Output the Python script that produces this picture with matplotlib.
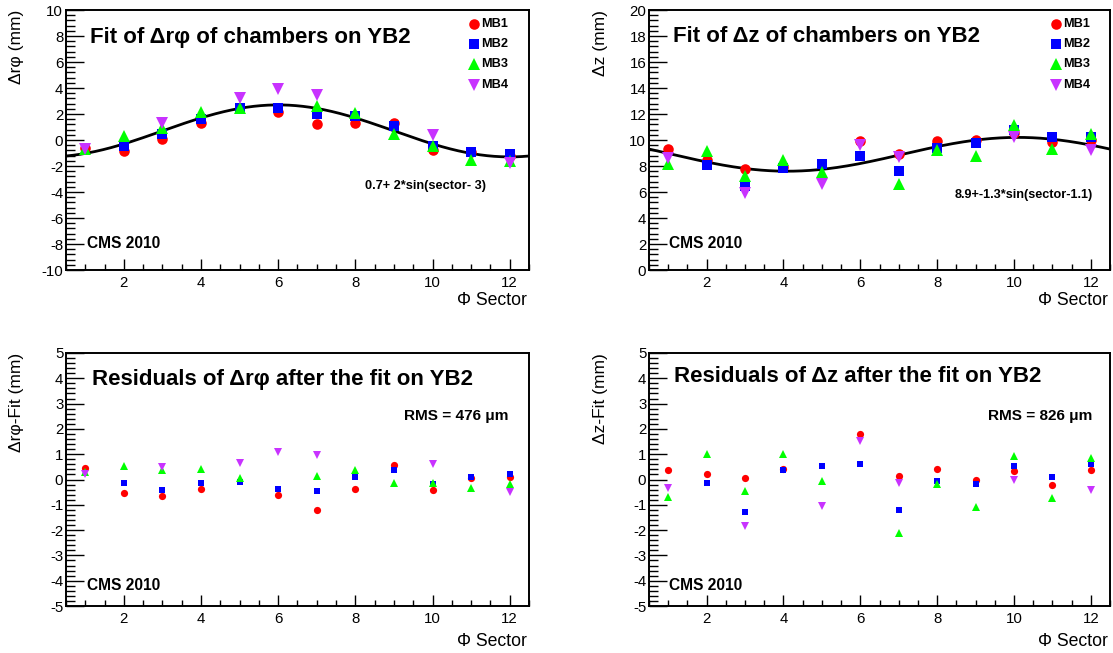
import numpy as np
import matplotlib
matplotlib.use("Agg")
import matplotlib.pyplot as plt
from matplotlib.ticker import MultipleLocator

plt.rcParams['font.family'] = ['Liberation Sans', 'DejaVu Sans']
plt.rcParams['axes.unicode_minus'] = False

nan = np.nan
sectors = np.arange(1, 13)
chambers = ["MB1", "MB2", "MB3", "MB4"]

# Delta r-phi (mm), top-left
drphi_mb1 = [-0.6, -0.88, 0.05, 1.34, nan, 2.12, 1.26, 1.29, 1.34, -0.77, -0.9, -1.2]
drphi_mb2 = [nan, -0.46, 0.44, 1.65, 2.43, 2.43, 2.0, 1.86, 1.08, -0.46, -0.9, -1.1]
drphi_mb3 = [-0.7, 0.3, 0.95, 2.17, 2.5, nan, 2.63, 2.1, 0.46, -0.46, -1.5, -1.6]
drphi_mb4 = [-0.72, nan, 1.34, nan, 3.2, 3.9, 3.48, nan, nan, 0.36, nan, -1.8]

# Delta z (mm), top-right
dz_mb1 = [9.28, 8.46, 7.74, 7.9, nan, 9.92, 8.92, 9.9, 10.0, 10.52, 9.82, 10.0]
dz_mb2 = [nan, 8.05, 6.49, 7.82, 8.18, 8.74, 7.59, 9.41, 9.74, 10.77, 10.2, 10.26]
dz_mb3 = [8.15, 9.18, 7.26, 8.46, 7.56, nan, 6.62, 9.23, 8.8, 11.13, 9.28, 10.46]
dz_mb4 = [8.6, nan, 5.9, nan, 6.6, 9.62, 8.72, nan, nan, 10.2, nan, 9.23]

# Residuals Delta r-phi - fit (mm), bottom-left
res_rphi_mb1 = [0.45, -0.55, -0.67, -0.38, nan, -0.62, -1.19, -0.38, 0.58, -0.41, 0.06, 0.09]
res_rphi_mb2 = [nan, -0.15, -0.4, -0.13, -0.08, -0.36, -0.46, 0.08, 0.37, -0.19, 0.1, 0.22]
res_rphi_mb3 = [0.3, 0.54, 0.37, 0.41, 0.06, nan, 0.14, 0.36, -0.15, -0.15, -0.33, -0.17]
res_rphi_mb4 = [0.22, nan, 0.51, nan, 0.67, 1.09, 0.96, nan, nan, 0.62, nan, -0.49]

# Residuals Delta z - fit (mm), bottom-right
res_z_mb1 = [0.36, 0.21, 0.04, 0.41, nan, 1.79, 0.13, 0.41, -0.01, 0.32, -0.21, 0.38]
res_z_mb2 = [nan, -0.15, -1.27, 0.36, 0.55, 0.63, -1.2, -0.05, -0.19, 0.55, 0.1, 0.62]
res_z_mb3 = [-0.68, 0.99, -0.44, 0.99, -0.05, nan, -2.1, -0.18, -1.1, 0.92, -0.73, 0.86]
res_z_mb4 = [-0.35, nan, -1.85, nan, -1.05, 1.51, -0.12, nan, nan, -0.01, nan, -0.42]

# Fit parameters: offset + amp*sin(2pi/12*(sector - phase))
fit_rphi = (0.7, 2.0, 3.0)
fit_z = (8.9, -1.3, 1.1)

colors = ["#ff0000", "#0000ff", "#00ff00", "#c832ff"]
markers = ["o", "s", "^", "v"]
big_sizes = [7.6, 6.8, 8.4, 8.4]
small_sizes = [5.2, 4.6, 5.6, 5.6]

W, H = 1113, 653
fig = plt.figure(figsize=(W / 100, H / 100), dpi=100)


def px_axes(x0, x1, y0, y1):
    return fig.add_axes([x0 / W, 1 - y1 / H, (x1 - x0) / W, (y1 - y0) / H])


def style(ax, ylo, yhi, ymaj, ymin, ticklen_y, ticklen_x):
    ax.set_xlim(0.5, 12.5)
    ax.set_ylim(ylo, yhi)
    ax.xaxis.set_major_locator(MultipleLocator(2))
    ax.xaxis.set_minor_locator(MultipleLocator(0.5))
    ax.yaxis.set_major_locator(MultipleLocator(ymaj))
    ax.yaxis.set_minor_locator(MultipleLocator(ymin))
    ax.tick_params(axis='both', which='both', direction='in', top=False, right=False,
                   labelsize=10.8, colors='black', width=1.0)
    ax.tick_params(axis='y', which='major', length=ticklen_y, pad=2)
    ax.tick_params(axis='y', which='minor', length=ticklen_y / 2)
    ax.tick_params(axis='x', which='major', length=ticklen_x, pad=4)
    ax.tick_params(axis='x', which='minor', length=ticklen_x / 2)
    for s in ax.spines.values():
        s.set_linewidth(1.4)
    ax.set_xticks([2, 4, 6, 8, 10, 12])


def draw_points(ax, series, sizes):
    for vals, c, m, ms in zip(series, colors, markers, sizes):
        ax.plot(sectors, vals, linestyle='none', marker=m, color=c, markersize=ms,
                markeredgewidth=0)


def draw_fit(ax, params):
    off, amp, ph = params
    xs = np.linspace(0.5, 12.5, 400)
    ax.plot(xs, off + amp * np.sin(2 * np.pi / 12 * (xs - ph)), color='black', lw=2.0, zorder=1)


def legend(ax, xm, xt, ys):
    for name, c, m, ms, y in zip(chambers, colors, markers, big_sizes, ys):
        fig.lines.append(plt.Line2D([xm / W], [1 - y / H], marker=m, color=c, markersize=ms,
                                    markeredgewidth=0, transform=fig.transFigure, linestyle='none'))
        fig.text(xt / W, 1 - y / H, name, fontsize=9.2, fontweight='bold', va='center', ha='left')


def ftext(x, y, s, **kw):
    fig.text(x / W, 1 - y / H, s, **kw)


# ---------- top-left ----------
ax1 = px_axes(66, 529, 10, 270)
style(ax1, -10, 10, 2, 0.4, 13, 8)
draw_fit(ax1, fit_rphi)
draw_points(ax1, [drphi_mb1, drphi_mb2, drphi_mb3, drphi_mb4], big_sizes)
ftext(90, 38, "Fit of Δrφ of chambers on YB2", fontsize=16, fontweight='bold', va='center')
ftext(486, 186, "0.7+ 2*sin(sector- 3)", fontsize=9.2, fontweight='bold', va='center', ha='right')
ftext(87, 244, "CMS 2010", fontsize=11.2, fontweight='bold', va='center')
ftext(527, 300, "Φ Sector", fontsize=12.7, va='center', ha='right')
ftext(17, 10, "Δrφ (mm)", fontsize=12.5, rotation=90, va='top', ha='center')
legend(ax1, 474, 481, [24, 44, 64, 85])

# ---------- top-right ----------
ax2 = px_axes(649, 1110, 10, 270)
style(ax2, 0, 20, 2, 0.4, 13, 8)
draw_fit(ax2, fit_z)
draw_points(ax2, [dz_mb1, dz_mb2, dz_mb3, dz_mb4], big_sizes)
ftext(673, 36, "Fit of Δz of chambers on YB2", fontsize=16, fontweight='bold', va='center')
ftext(1093, 195, "8.9+-1.3*sin(sector-1.1)", fontsize=9.1, fontweight='bold', va='center', ha='right')
ftext(669, 244, "CMS 2010", fontsize=11.2, fontweight='bold', va='center')
ftext(1108, 300, "Φ Sector", fontsize=12.7, va='center', ha='right')
ftext(600, 10, "Δz (mm)", fontsize=12.5, rotation=90, va='top', ha='center')
legend(ax2, 1056, 1063, [24, 44, 64, 85])

# ---------- bottom-left ----------
ax3 = px_axes(66, 529, 353, 606)
style(ax3, -5, 5, 1, 0.2, 13, 8)
draw_points(ax3, [res_rphi_mb1, res_rphi_mb2, res_rphi_mb3, res_rphi_mb4], small_sizes)
ftext(92, 380, "Residuals of Δrφ after the fit on YB2", fontsize=16, fontweight='bold', va='center')
ftext(508, 416, "RMS = 476 μm", fontsize=11.1, fontweight='bold', va='center', ha='right')
ftext(87, 586, "CMS 2010", fontsize=11.2, fontweight='bold', va='center')
ftext(527, 642, "Φ Sector", fontsize=12.7, va='center', ha='right')
ftext(17, 353, "Δrφ-Fit (mm)", fontsize=12.5, rotation=90, va='top', ha='center')

# ---------- bottom-right ----------
ax4 = px_axes(649, 1110, 353, 606)
style(ax4, -5, 5, 1, 0.2, 13, 8)
draw_points(ax4, [res_z_mb1, res_z_mb2, res_z_mb3, res_z_mb4], small_sizes)
ftext(674, 377, "Residuals of Δz after the fit on YB2", fontsize=16, fontweight='bold', va='center')
ftext(1092, 416, "RMS = 826 μm", fontsize=11.1, fontweight='bold', va='center', ha='right')
ftext(669, 586, "CMS 2010", fontsize=11.2, fontweight='bold', va='center')
ftext(1108, 642, "Φ Sector", fontsize=12.7, va='center', ha='right')
ftext(600, 353, "Δz-Fit (mm)", fontsize=12.5, rotation=90, va='top', ha='center')

fig.savefig("out.png", dpi=100)
